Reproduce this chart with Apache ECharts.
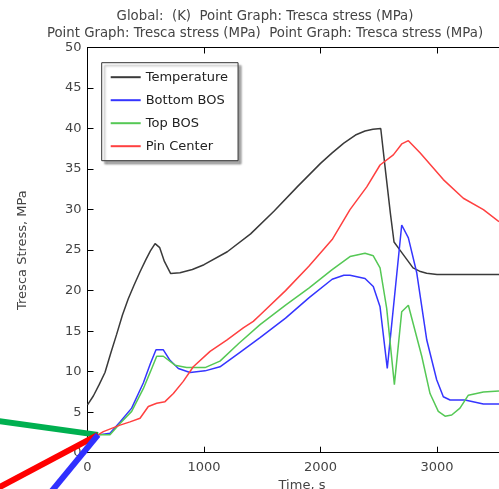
<!DOCTYPE html>
<html>
<head>
<meta charset="utf-8">
<script src="https://cdn.jsdelivr.net/npm/echarts@6/dist/echarts.min.js"></script>
<style>
html,body{margin:0;padding:0;background:#fff;}
#chart{width:499px;height:489px;}
</style>
</head>
<body>
<div id="chart"></div>
<script>
// ---- data ----
const titleLines = ['Global:  (K)  Point Graph: Tresca stress (MPa)', 'Point Graph: Tresca stress (MPa)  Point Graph: Tresca stress (MPa)'];
const xTitle = 'Time, s';
const yTitle = 'Tresca Stress, MPa';
const seriesNames = ['Temperature', 'Bottom BOS', 'Top BOS', 'Pin Center'];

const temperatureTime = [0, 50, 100, 150, 200, 250, 300, 350, 400, 450, 500, 540, 580, 597, 620, 660, 714, 794, 900, 1000, 1200, 1400, 1600, 1800, 2000, 2100, 2200, 2300, 2382, 2450, 2517, 2560, 2600, 2631, 2682, 2794, 2850, 2911, 3000, 3200, 3532];
const temperatureValues = [5.9, 7.0, 8.4, 9.9, 12.3, 14.6, 17.0, 19.0, 20.7, 22.3, 23.8, 24.9, 25.8, 26.0, 25.3, 23.6, 22.1, 22.2, 22.6, 23.2, 24.8, 27.0, 29.8, 32.8, 35.7, 37.0, 38.2, 39.2, 39.7, 39.9, 40.0, 34.5, 29.5, 26.0, 25.0, 22.8, 22.4, 22.15, 22.0, 22.0, 22.0];

const bottomTime = [90, 193, 279, 379, 479, 540, 588, 651, 708, 780, 880, 1009, 1137, 1300, 1481, 1700, 1900, 2100, 2200, 2253, 2382, 2453, 2511, 2573, 2697, 2754, 2826, 2912, 2997, 3054, 3112, 3240, 3398, 3532];
const bottomValues = [2.2, 2.4, 3.8, 5.5, 8.6, 11.0, 12.7, 12.7, 11.4, 10.4, 9.9, 10.1, 10.6, 12.3, 14.2, 16.6, 19.1, 21.4, 21.9, 21.9, 21.5, 20.5, 18.0, 10.4, 28.1, 26.5, 22.2, 13.9, 9.0, 6.9, 6.5, 6.5, 6.0, 6.0];

const topTime = [90, 193, 279, 379, 479, 540, 594, 651, 751, 851, 1009, 1137, 1300, 1481, 1700, 1900, 2100, 2253, 2382, 2453, 2511, 2568, 2634, 2697, 2754, 2869, 2940, 3011, 3069, 3126, 3197, 3269, 3398, 3532];
const topValues = [2.2, 2.2, 3.6, 5.1, 7.9, 10.0, 11.9, 11.9, 10.8, 10.5, 10.5, 11.3, 13.5, 15.8, 18.2, 20.3, 22.6, 24.2, 24.6, 24.3, 22.8, 17.8, 8.4, 17.4, 18.2, 11.9, 7.3, 5.1, 4.5, 4.65, 5.5, 7.1, 7.5, 7.6];

const pinTime = [90, 136, 279, 365, 451, 522, 594, 665, 737, 822, 908, 1052, 1195, 1337, 1423, 1481, 1700, 1900, 2100, 2253, 2397, 2511, 2625, 2697, 2754, 2854, 3054, 3226, 3398, 3532];
const pinValues = [2.2, 2.6, 3.4, 3.8, 4.25, 5.7, 6.1, 6.3, 7.3, 8.8, 10.6, 12.5, 13.9, 15.4, 16.2, 17.0, 20.0, 23.0, 26.3, 30.0, 32.8, 35.5, 36.75, 38.1, 38.5, 37.0, 33.7, 31.4, 30.0, 28.5];

// thick stray segments in the lower-left corner (start point, far point), in data units
const strayGreenTime = [90, -1600];
const strayGreenValues = [2.2, 5.6];
const strayRedTime = [90, -1600];
const strayRedValues = [2.2, -10.7];
const strayBlueTime = [90, -700];
const strayBlueValues = [2.2, -11.6];

const xMin = 0, xMax = 3532, xStep = 1000;
const yMin = 0, yMax = 50, yStep = 5;

function pairs(xs, ys) { return xs.map((x, i) => [x, ys[i]]); }

const colors = ['#3a3a3a', '#3535ff', '#55c855', '#ff4040'];
const font = 'DejaVu Sans';

const chart = echarts.init(document.getElementById('chart'));

function thin(name, xs, ys, color) {
  return {
    name: name, type: 'line', data: pairs(xs, ys), xAxisIndex: 0, yAxisIndex: 0,
    symbol: 'none', showSymbol: false, smooth: false,
    lineStyle: { color: color, width: 1.5 }, itemStyle: { color: color },
    z: 3, animation: false
  };
}

const plainNum = v => String(Math.round(v));

chart.setOption({
  animation: false,
  backgroundColor: '#ffffff',
  textStyle: { fontFamily: font },
  title: [
    {
      text: titleLines.join('\n'),
      left: 260, top: 3, textAlign: 'center',
      textStyle: { fontFamily: font, fontSize: 13.3, fontWeight: 'normal', color: '#444', lineHeight: 17 }
    },
    {
      text: xTitle,
      left: 297, top: 474, textAlign: 'center',
      textStyle: { fontFamily: font, fontSize: 13, fontWeight: 'normal', color: '#444' }
    }
  ],
  grid: { left: 87.5, top: 47.5, bottom: 36.3, right: 0, containLabel: false },
  legend: {
    orient: 'vertical',
    left: 101.7, top: 62.7,
    data: seriesNames.map(n => ({ name: n, icon: 'rect' })),
    itemWidth: 30, itemHeight: 2, itemGap: 10,
    padding: [8, 10, 8, 9],
    backgroundColor: '#ffffff',
    borderColor: '#333', borderWidth: 1,
    shadowColor: 'rgba(0,0,0,0.35)', shadowBlur: 2, shadowOffsetX: 3, shadowOffsetY: 3,
    textStyle: { fontFamily: font, fontSize: 13, color: '#222', lineHeight: 13 }
  },
  xAxis: [
    {
      type: 'value', position: 'bottom', min: xMin, max: xMax, interval: xStep,
      axisLine: { show: true, onZero: false, lineStyle: { color: '#000', width: 1 } },
      axisTick: { show: true, inside: true, length: 6, lineStyle: { color: '#000' } },
      axisLabel: { show: true, fontSize: 13, color: '#444', margin: 8, fontFamily: font, formatter: plainNum, showMaxLabel: false },
      splitLine: { show: false }
    },
    {
      type: 'value', position: 'top', min: xMin, max: xMax, interval: xStep,
      axisLine: { show: true, onZero: false, lineStyle: { color: '#000', width: 1 } },
      axisTick: { show: true, inside: true, length: 6, lineStyle: { color: '#000' } },
      axisLabel: { show: false },
      splitLine: { show: false }
    }
  ],
  yAxis: [
    {
      type: 'value', min: yMin, max: yMax, interval: yStep,
      name: yTitle, nameLocation: 'middle', nameGap: 58, nameRotate: 90,
      nameTextStyle: { fontFamily: font, fontSize: 13, color: '#444' },
      axisLine: { show: true, onZero: false, lineStyle: { color: '#000', width: 1 } },
      axisTick: { show: true, inside: true, length: 6, lineStyle: { color: '#000' } },
      axisLabel: { show: true, fontSize: 13, color: '#444', margin: 6, fontFamily: font },
      splitLine: { show: false }
    }
  ],
  series: [
    thin(seriesNames[0], temperatureTime, temperatureValues, colors[0]),
    thin(seriesNames[1], bottomTime, bottomValues, colors[1]),
    thin(seriesNames[2], topTime, topValues, colors[2]),
    thin(seriesNames[3], pinTime, pinValues, colors[3])
  ]
});

// stray thick strokes: positioned through the grid's own scales, not clipped to the plot
function strayLine(xs, ys, color) {
  const pts = xs.map((x, i) => chart.convertToPixel({ gridIndex: 0 }, [x, ys[i]]));
  return { type: 'polyline', shape: { points: pts }, style: { stroke: color, lineWidth: 6, fill: null }, z: 100, silent: true };
}
chart.setOption({
  graphic: [
    strayLine(strayGreenTime, strayGreenValues, '#00b050'),
    strayLine(strayRedTime, strayRedValues, '#ff0000'),
    strayLine(strayBlueTime, strayBlueValues, '#3030ff')
  ]
});
</script>
</body>
</html>
